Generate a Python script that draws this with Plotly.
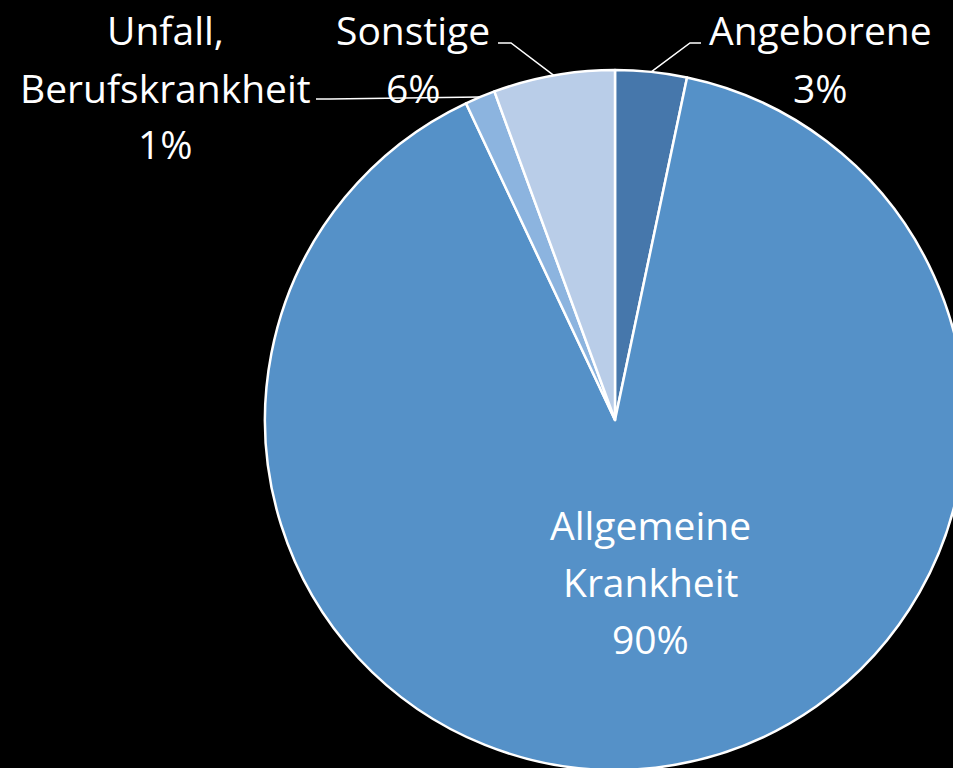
import math
import plotly.graph_objects as go

labels = ["Angeborene", "Allgemeine Krankheit", "Unfall, Berufskrankheit", "Sonstige"]
values = [3.3, 89.7, 1.4, 5.6]
colors = ["#4677AB", "#5591C8", "#8CB4DF", "#B9CDE8"]

# label lines, their centre positions (px) and leader-line elbows (px)
label_lines = [["Angeborene"], ["Allgemeine", "Krankheit"], ["Unfall,", "Berufskrankheit"], ["Sonstige"]]
label_pos = [(820, 30), (650, 524), (165, 30), (413, 30)]
elbows = [[(701, 43), (690, 43)], None, [(316, 99), (330, 99)], [(498, 43), (511, 43)]]

W, H = 975, 790          # a little larger than the window so the pie runs off the edges
CX, CY, R = 615, 420, 350  # pie centre and radius in pixels
LINE = 57                # line spacing of the labels
FONT = dict(family="Open Sans", size=39, color="white")


def px(x, y):
    return x / W, 1 - y / H


fig = go.Figure()
fig.add_trace(go.Pie(
    labels=labels,
    values=values,
    sort=False,
    direction="clockwise",
    rotation=0,
    marker=dict(colors=colors, line=dict(color="white", width=2.5)),
    textinfo="none",
    domain=dict(x=[(CX - R) / W, (CX + R) / W], y=[1 - (CY + R) / H, 1 - (CY - R) / H]),
    showlegend=False,
    hoverinfo="skip",
))

total = sum(values)
cum = 0
for i, v in enumerate(values):
    lines = label_lines[i] + [f"{round(v / total * 100)}%"]
    lx, ly = label_pos[i]
    for k, t in enumerate(lines):
        x, y = px(lx, ly + k * LINE)
        fig.add_annotation(x=x, y=y, xref="paper", yref="paper", text=t,
                           showarrow=False, xanchor="center", yanchor="middle", font=FONT)
    # leader line from the label to the middle of the slice edge
    mid = (cum + v / 2) / total * 2 * math.pi
    cum += v
    if elbows[i]:
        ex, ey = CX + R * math.sin(mid), CY - R * math.cos(mid)
        pts = elbows[i] + [(ex, ey)]
        path = "M " + " L ".join(f"{px(a, b)[0]},{px(a, b)[1]}" for a, b in pts)
        fig.add_shape(type="path", path=path, xref="paper", yref="paper",
                      line=dict(color="white", width=1.5))

fig.update_layout(
    width=W, height=H,
    margin=dict(l=0, r=0, t=0, b=0),
    paper_bgcolor="black",
    plot_bgcolor="black",
)

fig.write_html(
    "out.html",
    config={"displayModeBar": False},
    post_script="document.body.style.margin='0';document.body.style.overflow='hidden';"
                "document.body.style.background='black';",
)
